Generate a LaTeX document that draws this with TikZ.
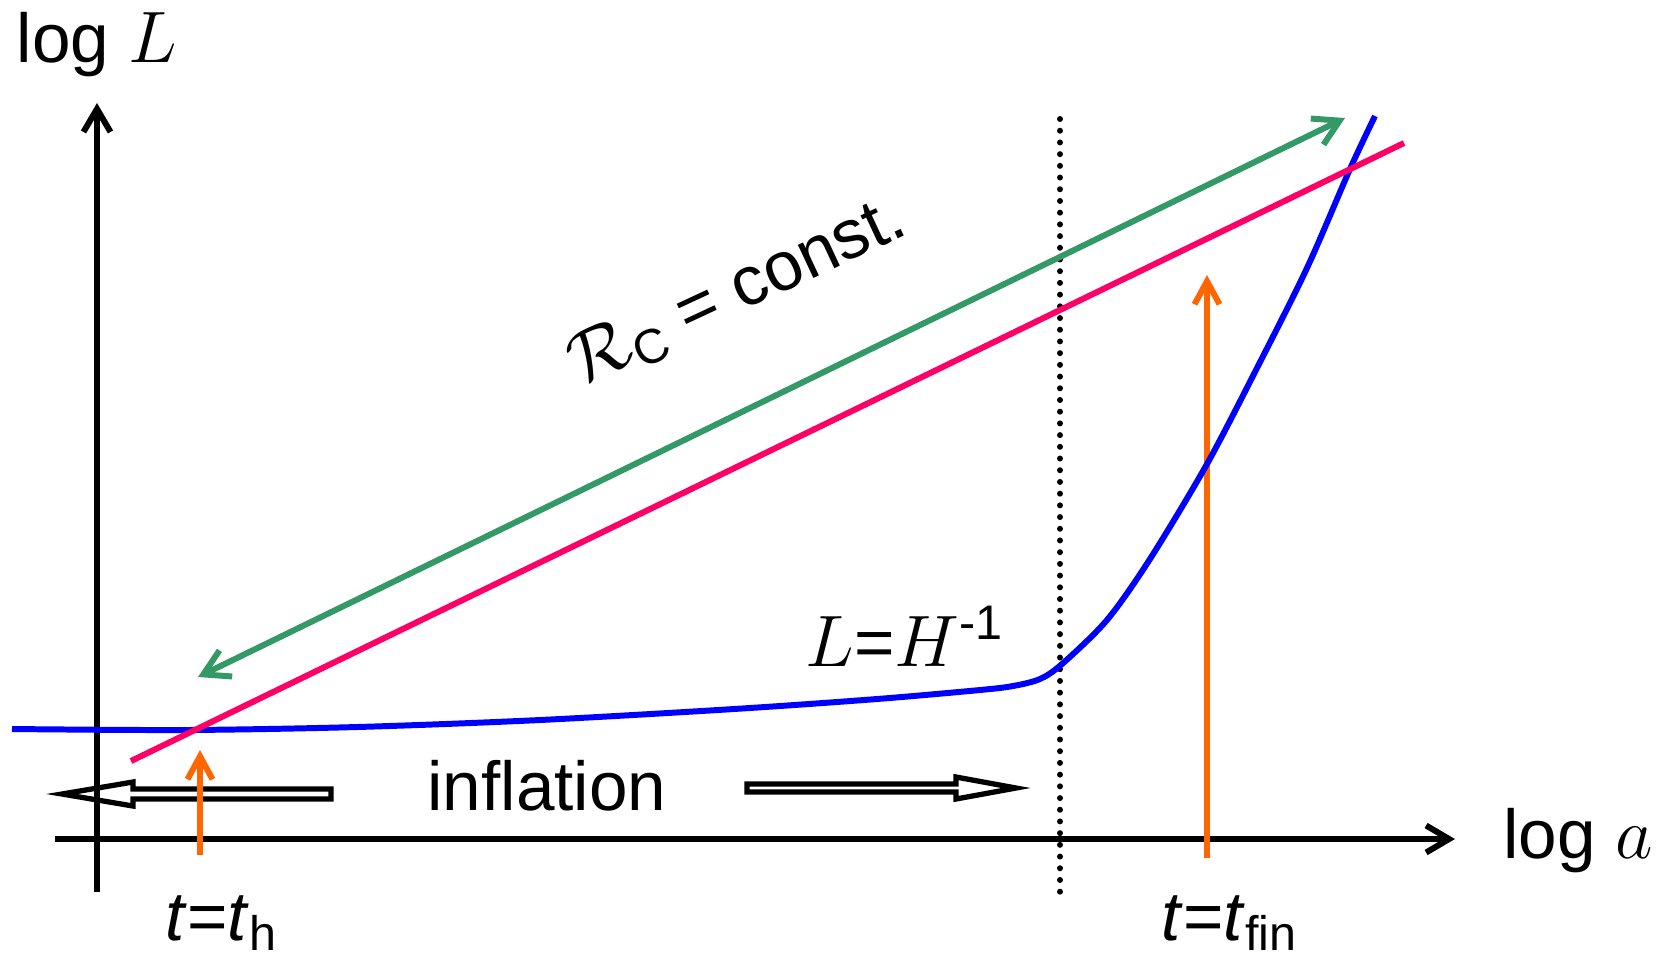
\documentclass[tikz,border=0pt]{standalone}
\usepackage{fontspec}
\setmainfont{Liberation Sans}
\usetikzlibrary{arrows.meta}

\definecolor{hubblue}{HTML}{0000FF}
\definecolor{crpink}{HTML}{FF0066}
\definecolor{crgreen}{HTML}{339966}
\definecolor{timeorange}{HTML}{FF6600}

\begin{document}
\begin{tikzpicture}[
  x=0.01cm,y=-0.01cm,
  font=\fontsize{19.7}{23}\selectfont,
  axis/.style={line width=1.7pt,-{Straight Barb[length=2.3mm,width=2.7mm]}},
  curve/.style={line width=1.7pt},
  probe/.style={timeorange,line width=1.7pt,-{Straight Barb[length=2.3mm,width=2.5mm]}},
  hollow/.style={draw,line width=1.5pt,line join=miter},
  lab/.style={anchor=base,inner sep=0pt}
]
  \path[use as bounding box] (0,0) rectangle (1665,959);

  % hollow arrows of the inflation period
  \draw[hollow] (331,789) -- (133,789) -- (133,782) -- (62,794) -- (133,806)
    -- (133,799) -- (331,799) -- cycle;
  \draw[hollow] (747,784) -- (956,784) -- (956,777) -- (1016,788) -- (956,799)
    -- (956,792) -- (747,792) -- cycle;
  \node[lab] (infl) at (547,810) {inflation};

  % axes
  \coordinate (yb) at (97,892);
  \coordinate (yt) at (97,103);
  \coordinate (xl) at (55,839);
  \coordinate (xr) at (1455,839);
  \draw[axis] (yb) -- (yt);
  \draw[axis] (xl) -- (xr);
  \node[lab] (ylab) at (97,62) {log $L$};
  \node[lab] (xlab) at (1578,858) {log $a$};

  % end of inflation
  \coordinate (endtop) at (1060,119);
  \coordinate (endbot) at (1060,900);
  \draw[line width=1.7pt,line cap=round,dash pattern=on 0pt off 0.117cm]
    (endtop) -- (endbot);

  % times
  \coordinate (thb) at (200,855);
  \coordinate (tht) at (200,750);
  \coordinate (tfb) at (1207,858);
  \coordinate (tft) at (1207,275);
  \draw[probe] (thb) -- (tht);
  \draw[probe] (tfb) -- (tft);
  \node[lab] (th) at (222,940) {\textit{t}=\textit{t}\textsubscript{h}};
  \node[lab] (tfin) at (1230,940) {\textit{t}=\textit{t}\textsubscript{fin}};

  % Hubble radius
  \draw[hubblue,curve] plot[smooth,tension=0.5] coordinates {
    (12,729) (186,730) (357,727) (540,720) (734,709) (877,699) (980,690)
    (1013,686) (1040,679) (1062,664) (1107,620) (1150,559) (1207,464)
    (1257,368) (1307,268) (1350,169) (1375,116)};
  \node[lab] (hubble) at (905,666) {$L$=$H$\textsuperscript{-1}};

  % comoving scale
  \coordinate (pl) at (131,761);
  \coordinate (pr) at (1404,143);
  \draw[crpink,curve] (pl) -- (pr);
  \coordinate (gl) at (198,677);
  \coordinate (gr) at (1345,118);
  \draw[crgreen,curve,{Straight Barb[length=2.5mm,width=2.9mm]}-{Straight Barb[length=2.5mm,width=2.9mm]}]
    (gl) -- (gr);
  \node[rotate=25] (rconst) at (738,292) {$\mathcal{R}$\textsubscript{C} = const.};
\end{tikzpicture}
\end{document}
